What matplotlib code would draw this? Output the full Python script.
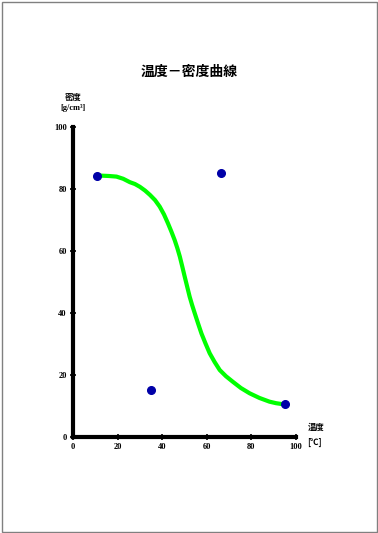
import matplotlib
matplotlib.use("Agg")
import matplotlib.pyplot as plt
from matplotlib.patches import Rectangle

plt.rcParams['font.family'] = ['Noto Sans CJK JP', 'DejaVu Sans']

# 測定点
temp = [10.6, 34.8, 66.5, 94.9]
density = [84.3, 15.3, 85.3, 10.5]

# 近似曲線
curve_x = [10.6, 12.8, 16.0, 19.5, 22.5, 25.5, 27.8, 30.0, 32.3, 34.5, 36.8,
           38.9, 40.8, 42.6, 44.1, 45.6, 46.8, 47.9, 49.0, 50.1, 51.2, 52.3,
           53.4, 54.6, 56.1, 57.6, 59.4, 61.3, 63.5, 65.8, 68.6, 71.7, 75.3,
           79.2, 83.6, 88.1, 91.1, 94.9]
curve_y = [84.3, 84.3, 84.2, 84.0, 83.3, 82.2, 81.6, 80.7, 79.5, 78.1, 76.4,
           74.3, 71.8, 68.9, 66.3, 63.5, 60.9, 58.2, 55.0, 51.7, 48.5, 45.3,
           42.6, 39.9, 36.6, 33.4, 30.2, 27.0, 24.2, 21.6, 19.6, 17.8, 15.8,
           14.1, 12.6, 11.4, 10.9, 10.5]

ticks = [0, 20, 40, 60, 80, 100]
tick_labels = ["0", "20", "40", "60", "80", "100"]

W, H = 378, 533
fig = plt.figure(figsize=(W / 100, H / 100), dpi=100)
fig.patches.append(Rectangle((1.5 / W, 1.5 / H), 375 / W, 530 / H,
                             transform=fig.transFigure, fill=False,
                             edgecolor="#808080", linewidth=1))

ax = fig.add_axes([73 / W, (H - 437) / H, 223 / W, 310 / H])
ax.plot(curve_x, curve_y, color="#00FF00", linewidth=3, solid_joinstyle="round", zorder=2)
ax.plot(temp, density, "o", color="#0000A8", markersize=5.5, zorder=3)

ax.set_xlim(0, 100)
ax.set_ylim(0, 100)
for s in ["top", "right"]:
    ax.spines[s].set_visible(False)
for s in ["left", "bottom"]:
    ax.spines[s].set_linewidth(3)

ax.set_xticks(ticks)
ax.set_yticks(ticks)
ax.set_xticks([10, 30, 50, 70, 90], minor=True)
tick_font = dict(family="Liberation Serif", weight="bold", size=6)
ax.set_xticklabels(tick_labels, fontdict=tick_font)
ax.set_yticklabels(tick_labels, fontdict=tick_font)
ax.tick_params(which="major", direction="inout", length=5, width=1.2, pad=2)
ax.tick_params(which="minor", direction="inout", length=2, width=1)

fig.text(189 / W, 1 - 72 / H, "温度－密度曲線", ha="center", va="center",
         fontsize=10, fontweight="bold")
fig.text(73 / W, 1 - 97 / H, "密度", ha="center", va="center", fontsize=6, fontweight="bold")
fig.text(73 / W, 1 - 108 / H, "[g/cm³]", ha="center", va="center", fontsize=6,
         fontweight="bold", family=["Liberation Serif", "DejaVu Sans"])
fig.text(308 / W, 1 - 427 / H, "温度", ha="left", va="center", fontsize=6, fontweight="bold")
fig.text(307 / W, 1 - 442 / H, "[℃]", ha="left", va="center", fontsize=6, fontweight="bold")

fig.savefig("out.png", dpi=100)
